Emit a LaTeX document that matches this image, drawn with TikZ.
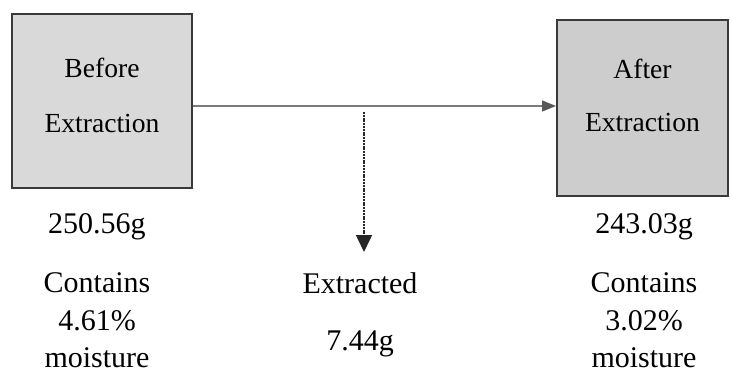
\documentclass[tikz,border=0pt]{standalone}
\usepackage{fontspec}
\setmainfont{Liberation Serif}
\usetikzlibrary{positioning,arrows.meta}

\definecolor{boxgray}{HTML}{D9D9D9}
\definecolor{boxgrayb}{HTML}{CDCDCD}
\definecolor{edgegray}{HTML}{3A3A3A}
\definecolor{linegray}{HTML}{7A7A7A}

\begin{document}
\begin{tikzpicture}[x=0.5pt,y=-0.5pt,
    stage/.style={draw=edgegray,line width=1pt,align=center,
      font=\fontsize{13.8}{27.5}\selectfont,inner sep=0pt},
    note/.style={anchor=base,font=\fontsize{15}{18.5}\selectfont},
    flow/.style={draw=linegray,line width=0.7pt,
      -{Triangle[length=7pt,width=5.5pt,color=black!65]}},
    loss/.style={draw=black!85,line width=0.75pt,dash pattern=on 1pt off 0.4pt,
      -{Triangle[length=8.5pt,width=8pt]}}]
  \useasboundingbox (0,0) rectangle (730,371);

  \node[stage,fill=boxgray,minimum width=90pt,minimum height=87pt,
    text depth=6pt] (before) at (102,101) {Before\\Extraction};
  \node[stage,fill=boxgrayb,minimum width=85.5pt,minimum height=88pt,
    text depth=13pt] (after) at (642.5,108) {After\\[-1pt]Extraction};

  \coordinate (split) at (364,106);
  \coordinate (tap) at (364,112);
  \coordinate (drop) at (364,252);

  \draw[flow] (before.east |- split) -- (after.west |- split);
  \draw[loss] (tap) -- (drop);

  % masses and moisture
  \node[note] (wbefore) at (97,233) {250.56g};
  \node[note] (cbefore) at (97,292) {Contains};
  \node[note] (pbefore) at (97,330) {4.61\%};
  \node[note] (mbefore) at (97,367) {moisture};

  \node[note] (cout) at (360,293) {Extracted};
  \node[note] (wout) at (360,350) {7.44g};

  \node[note] (wafter) at (644,233) {243.03g};
  \node[note] (cafter) at (644,292) {Contains};
  \node[note] (pafter) at (644,330) {3.02\%};
  \node[note] (mafter) at (644,367) {moisture};
\end{tikzpicture}
\end{document}
